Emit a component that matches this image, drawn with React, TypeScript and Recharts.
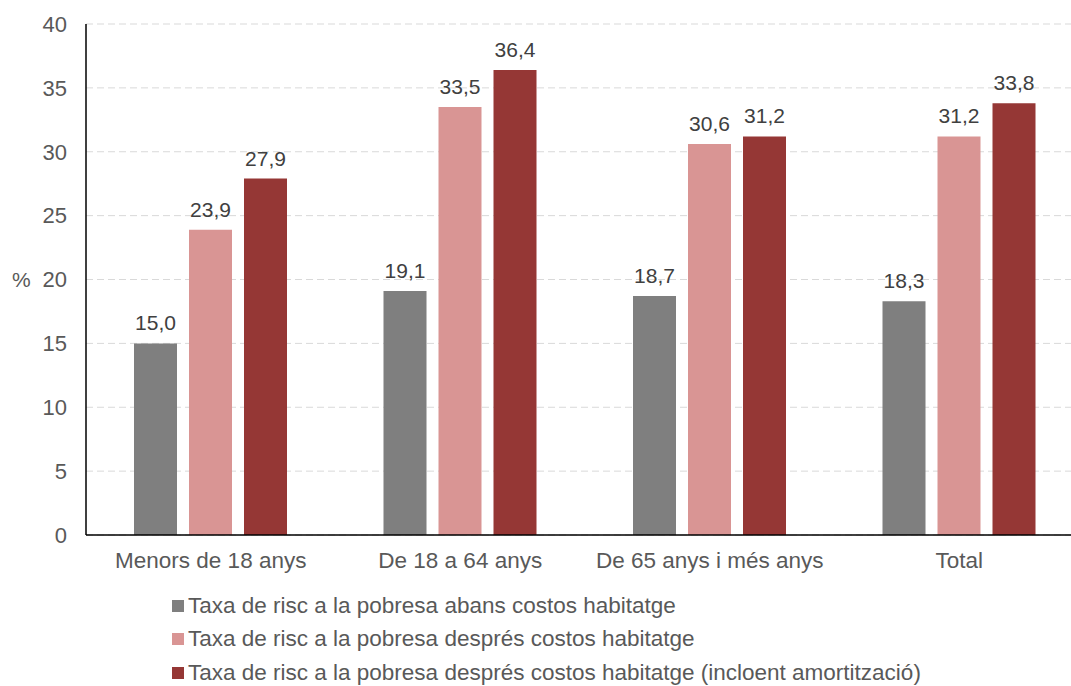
import React from 'react';
import { BarChart, Bar, XAxis, YAxis, CartesianGrid, LabelList } from 'recharts';

const categories = ['Menors de 18 anys', 'De 18 a 64 anys', 'De 65 anys i més anys', 'Total'];
const abans = [15.0, 19.1, 18.7, 18.3];
const despres = [23.9, 33.5, 30.6, 31.2];
const amortitzacio = [27.9, 36.4, 31.2, 33.8];
const seriesNames = [
  'Taxa de risc a la pobresa abans costos habitatge',
  'Taxa de risc a la pobresa després costos habitatge',
  'Taxa de risc a la pobresa després costos habitatge (incloent amortització)',
];
const seriesColors = ['#7F7F7F', '#D99594', '#953735'];
const yTicks = [0, 5, 10, 15, 20, 25, 30, 35, 40];

const data = categories.map((c, i) => ({ cat: c, a: abans[i], b: despres[i], c: amortitzacio[i] }));
const keys = ['a', 'b', 'c'];

const FONT = '"Liberation Sans", Arial, sans-serif';
const fmt = (v: any) => Number(v).toFixed(1).replace('.', ',');

export default function App() {
  return (
    <div style={{ position: 'fixed', left: 0, top: 0, width: 1071, height: 686, overflow: 'hidden', background: '#fff', fontFamily: FONT }}>
      <BarChart
        width={1084}
        height={686}
        data={data}
        margin={{ top: 24, right: 0, bottom: 111, left: 0 }}
        barSize={43}
        barGap={12}
      >
        <CartesianGrid vertical={false} stroke="#D9D9D9" strokeDasharray="7 4" />
        <XAxis
          dataKey="cat"
          height={40}
          tickLine={false}
          tickSize={0}
          tickMargin={17}
          axisLine={{ stroke: '#000', strokeWidth: 1.5 }}
          tick={{ fill: '#595959', fontSize: 22.5, fontFamily: FONT }}
          interval={0}
        />
        <YAxis
          width={86}
          domain={[0, 40]}
          ticks={yTicks}
          tickLine={false}
          tickSize={0}
          tickMargin={19}
          axisLine={{ stroke: '#000', strokeWidth: 1.5 }}
          tick={{ fill: '#595959', fontSize: 22, fontFamily: FONT }}
          label={{ value: '%', position: 'insideLeft', offset: 12, fill: '#595959', fontSize: 21, fontFamily: FONT }}
        />
        {keys.map((k, i) => (
          <Bar key={k} dataKey={k} fill={seriesColors[i]} isAnimationActive={false}>
            <LabelList dataKey={k} position="top" offset={13} formatter={fmt} fill="#404040" fontSize={21} fontFamily={FONT} />
          </Bar>
        ))}
      </BarChart>
      <div style={{ position: 'absolute', left: 172, top: 589, fontFamily: FONT, fontSize: 22.5, color: '#595959' }}>
        {seriesNames.map((n, i) => (
          <div key={n} style={{ display: 'flex', alignItems: 'center', height: 33.5, whiteSpace: 'nowrap' }}>
            <span style={{ display: 'inline-block', width: 12, height: 12, background: seriesColors[i], marginRight: 4 }} />
            <span>{n}</span>
          </div>
        ))}
      </div>
    </div>
  );
}
